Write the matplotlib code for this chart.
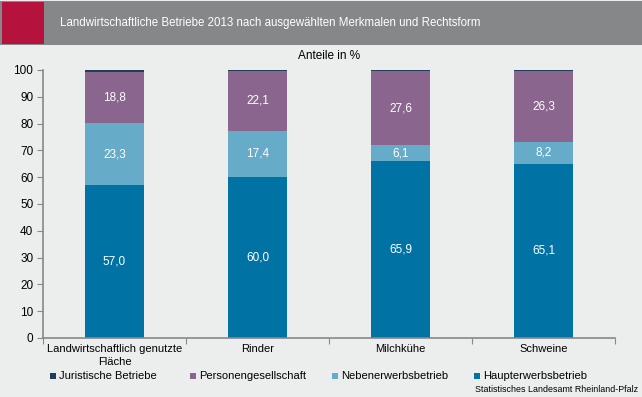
import numpy as np
import matplotlib.pyplot as plt
from matplotlib.patches import Rectangle

# data
categories = ["Landwirtschaftlich genutzte\nFläche", "Rinder", "Milchkühe", "Schweine"]
haupt = [57.0, 60.0, 65.9, 65.1]
neben = [23.3, 17.4, 6.1, 8.2]
personen = [18.8, 22.1, 27.6, 26.3]
juristisch = [0.9, 0.5, 0.4, 0.4]
series_names = ["Juristische Betriebe", "Personengesellschaft", "Nebenerwerbsbetrieb", "Haupterwerbsbetrieb"]

c_haupt = "#0072A4"
c_neben = "#66ABC8"
c_pers = "#8A658E"
c_jur = "#1E3E5A"
bg = "#ECEDED"

W, H = 642, 397
fig = plt.figure(figsize=(W / 100, H / 100), dpi=100, facecolor=bg)
plt.rcParams['font.family'] = ['Liberation Sans', 'DejaVu Sans']

# header
fig.patches.append(Rectangle((0, 1 - 45 / H), 1, 44 / H, transform=fig.transFigure,
                             facecolor="#868788", edgecolor="none"))
fig.patches.append(Rectangle((2 / W, 1 - 44 / H), 42 / W, 42 / H, transform=fig.transFigure,
                             facecolor="#B5123E", edgecolor="none"))
fig.text(60 / W, 1 - 23 / H, "Landwirtschaftliche Betriebe 2013 nach ausgewählten Merkmalen und Rechtsform",
         color="white", fontsize=8.3, va="center", ha="left")

x0, x1 = 43, 615
y_top, y_bot = 70, 338
ax = fig.add_axes([x0 / W, 1 - y_bot / H, (x1 - x0) / W, (y_bot - y_top) / H])
ax.set_facecolor(bg)

x = np.arange(len(categories))
bw = 0.41
b1 = ax.bar(x, haupt, bw, color=c_haupt)
b2 = ax.bar(x, neben, bw, bottom=haupt, color=c_neben)
bot3 = np.array(haupt) + np.array(neben)
b3 = ax.bar(x, personen, bw, bottom=bot3, color=c_pers)
bot4 = bot3 + np.array(personen)
b4 = ax.bar(x, juristisch, bw, bottom=bot4, color=c_jur)

for vals, bots in [(haupt, np.zeros(4)), (neben, np.array(haupt)), (personen, bot3)]:
    for xi, v, b in zip(x, vals, bots):
        ax.text(xi, b + v / 2, f"{v:.1f}".replace(".", ","), ha="center", va="center",
                color="white", fontsize=8.5)

ax.set_xlim(-0.5, len(categories) - 0.5)
ax.set_ylim(0, 100)
ax.set_yticks(range(0, 101, 10))
ax.set_xticks(np.arange(-0.5, len(categories), 1.0))
ax.set_xticklabels([])
ax.tick_params(axis="x", which="major", direction="out", length=4, color="#888888")
ax.tick_params(axis="y", direction="out", length=4, color="#888888", labelsize=8.5, pad=3)
for s in ["top", "right"]:
    ax.spines[s].set_visible(False)
for s in ["left", "bottom"]:
    ax.spines[s].set_color("#888888")
    ax.spines[s].set_linewidth(1.2)

# category labels below the axis
for xi, cat in zip(x, categories):
    ax.text(xi, -2.3, cat, ha="center", va="top", fontsize=8, linespacing=1.3,
            transform=ax.transData, clip_on=False)

fig.text((x0 + x1) / 2 / W, 1 - 56 / H, "Anteile in %", ha="center", va="center", fontsize=8.5)

# legend, entries placed by hand like the original
leg_colors = [c_jur, c_pers, c_neben, c_haupt]
leg_x = [50, 190, 332, 474]
leg_y = 376
for lx, name, col in zip(leg_x, series_names, leg_colors):
    fig.patches.append(Rectangle((lx / W, 1 - (leg_y + 3) / H), 6 / W, 6 / H,
                                 transform=fig.transFigure, facecolor=col, edgecolor="none"))
    fig.text((lx + 9) / W, 1 - leg_y / H, name, ha="left", va="center", fontsize=8)

fig.text(638 / W, 1 - 389 / H, "Statistisches Landesamt Rheinland-Pfalz", ha="right", va="center", fontsize=6.4)

fig.savefig("out.png", dpi=100, facecolor=bg)
